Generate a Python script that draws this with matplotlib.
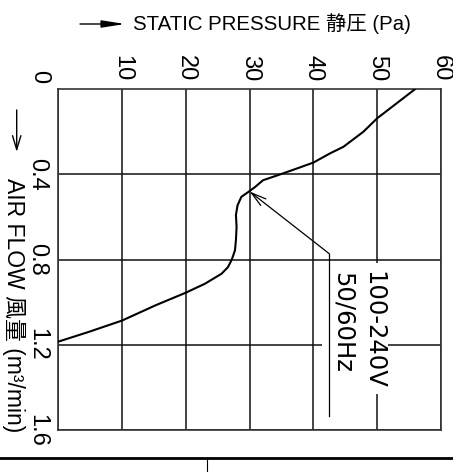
import matplotlib
matplotlib.use("Agg")
import matplotlib.pyplot as plt
from matplotlib.patches import Rectangle
from matplotlib.lines import Line2D

# ---- data ----
airflow = [0.0, 0.136, 0.168, 0.20, 0.27, 0.301, 0.344, 0.372, 0.40, 0.427, 0.46, 0.482,
           0.505, 0.545, 0.59, 0.646, 0.708, 0.756, 0.80, 0.835, 0.866, 0.913, 0.955,
           1.015, 1.086, 1.14, 1.185]
pressure = [55.9, 50.0, 48.9, 47.8, 44.7, 42.6, 40.0, 37.4, 34.75, 32.1, 30.8, 29.8,
            28.7, 28.1, 27.85, 27.95, 27.85, 27.7, 27.2, 26.6, 25.6, 23.0, 20.0,
            15.2, 10.0, 4.7, 0.0]

pressure_ticks = [0, 10, 20, 30, 40, 50, 60]
pressure_labels = ["", "10", "20", "30", "40", "50", "60"]
flow_ticks = [0.4, 0.8, 1.2, 1.6]
flow_labels = ["0.4", "0.8", "1.2", "1.6"]

curve_label_v = "100-240V"
curve_label_hz = "50/60Hz"

W, H = 453, 472
fig = plt.figure(figsize=(W / 100, H / 100), dpi=100)
fig.patch.set_facecolor("white")

ax = fig.add_axes([58.3 / W, 1 - 430 / H, (441 - 58.3) / W, (430 - 89.3) / H])
ax.set_xlim(0, 60)
ax.set_ylim(1.6, 0)

tick_font = ["Liberation Sans", "DejaVu Sans"]
label_font = ["Liberation Sans", "Noto Sans CJK JP", "DejaVu Sans"]

ax.xaxis.tick_top()
ax.set_xticks(pressure_ticks)
ax.set_xticklabels(pressure_labels, family=tick_font, fontsize=17, rotation=-90)
ax.set_yticks(flow_ticks)
ax.set_yticklabels(flow_labels, family=tick_font, fontsize=17, rotation=-90, va="center")
ax.tick_params(axis="x", length=0, pad=6)
ax.tick_params(axis="y", length=0, pad=7)
for lbl in ax.get_yticklabels():
    lbl.set_va("center")

ax.annotate("0", xy=(0, 0), xycoords="data", xytext=(-5.8, 9), textcoords="offset points",
            ha="right", va="center", rotation=-90, family=tick_font, fontsize=17)

ax.set_axisbelow(True)
ax.grid(True, color="#111111", lw=1.1)
for s in ax.spines.values():
    s.set_linewidth(1.2)
    s.set_color("#333333")

# gaps in the grid where the labels sit
ax.add_patch(Rectangle((41.3, 1.185), 51.7 - 41.3, 0.03, facecolor="white",
                       edgecolor="none", zorder=1.5))
ax.add_patch(Rectangle((49.5, 0.817), 1.0, 1.429 - 0.817, facecolor="white",
                       edgecolor="none", zorder=1.5))

ax.plot(pressure, airflow, color="black", lw=1.5, zorder=3, solid_joinstyle="round")

# leader with arrow
ax.annotate("", xy=(30, 0.48), xytext=(42.48, 0.772),
            arrowprops=dict(arrowstyle="->,head_length=0.9,head_width=0.25", lw=0.9,
                            color="black", mutation_scale=12, shrinkA=0, shrinkB=0),
            zorder=4)
ax.plot([42.48, 42.48], [0.772, 1.533], color="black", lw=0.9, zorder=4)

ax.text(49.4, 1.129, curve_label_v, rotation=-90, ha="center", va="center",
        family=["DejaVu Sans"], fontsize=17.5, zorder=5)
ax.text(44.6, 1.094, curve_label_hz, rotation=-90, ha="center", va="center",
        family=["DejaVu Sans"], fontsize=17.5, zorder=5)

# axis titles
fig.text(133 / W, 1 - 24 / H, "STATIC PRESSURE 静圧 (Pa)", ha="left", va="center",
         family=label_font, fontsize=14.7)
fig.text(14 / W, 1 - 305 / H, "AIR FLOW 風量 (m³/min)", ha="center", va="center",
         rotation=-90, family=label_font, fontsize=16.5)

ax.annotate("", xy=(125 / W, 1 - 24 / H), xytext=(80 / W, 1 - 24 / H),
            xycoords="figure fraction", textcoords="figure fraction",
            arrowprops=dict(arrowstyle="-|>,head_length=1.4,head_width=0.22", lw=1.0,
                            color="black", mutation_scale=10, shrinkA=0, shrinkB=0))
ax.annotate("", xy=(16.7 / W, 1 - 152 / H), xytext=(16.7 / W, 1 - 110 / H),
            xycoords="figure fraction", textcoords="figure fraction",
            arrowprops=dict(arrowstyle="->,head_length=1.0,head_width=0.3", lw=1.0,
                            color="black", mutation_scale=10, shrinkA=0, shrinkB=0))

# bottom border of the drawing frame
fig.add_artist(Line2D([0, 1], [1 - 457.7 / H] * 2, transform=fig.transFigure,
                      color="black", lw=2.0))
fig.add_artist(Line2D([206.7 / W] * 2, [1 - 458 / H, 0], transform=fig.transFigure,
                      color="black", lw=0.8))

fig.savefig("out.png", dpi=100)
